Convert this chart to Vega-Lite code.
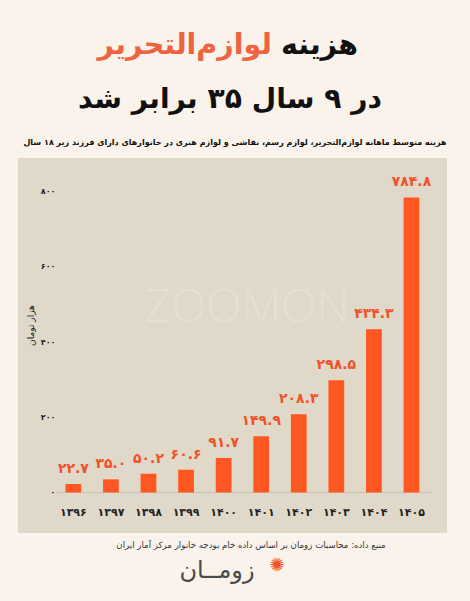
{
  "$schema": "https://vega.github.io/schema/vega-lite/v6.json",
  "width": 429,
  "height": 375,
  "autosize": {"type": "none"},
  "padding": {"left": 18, "top": 158, "right": 23, "bottom": 68},
  "background": "#FAF3EB",
  "config": {
    "view": {"fill": "#E0D8C8", "stroke": null},
    "font": "DejaVu Sans",
    "locale": {
      "number": {
        "decimal": ".",
        "thousands": ",",
        "grouping": [3],
        "currency": ["", ""],
        "numerals": ["۰", "۱", "۲", "۳", "۴", "۵", "۶", "۷", "۸", "۹"]
      }
    }
  },
  "layer": [
    {
      "data": {"values": [{}]},
      "mark": {"type": "text", "text": "ZOOMON", "x": 229, "y": 150, "align": "center", "baseline": "middle", "font": "Open Sans", "fontWeight": 300, "fontSize": 46, "color": "#FFFFFF", "opacity": 0.2},
      "encoding": {}
    },
    {
      "data": {
        "values": [
          {"year": "۱۳۹۶", "value": 22.7},
          {"year": "۱۳۹۷", "value": 35.0},
          {"year": "۱۳۹۸", "value": 50.2},
          {"year": "۱۳۹۹", "value": 60.6},
          {"year": "۱۴۰۰", "value": 91.7},
          {"year": "۱۴۰۱", "value": 149.9},
          {"year": "۱۴۰۲", "value": 208.3},
          {"year": "۱۴۰۳", "value": 298.5},
          {"year": "۱۴۰۴", "value": 434.3},
          {"year": "۱۴۰۵", "value": 784.8}
        ]
      },
      "encoding": {
        "x": {
          "field": "year",
          "type": "ordinal",
          "sort": null,
          "scale": {
            "domain": ["۱۳۹۶", "۱۳۹۷", "۱۳۹۸", "۱۳۹۹", "۱۴۰۰", "۱۴۰۱", "۱۴۰۲", "۱۴۰۳", "۱۴۰۴", "۱۴۰۵"],
            "paddingInner": 0.581, "paddingOuter": 1.282, "align": 0.632
          },
          "axis": {
            "title": null,
            "orient": "bottom",
            "offset": -21,
            "domain": false,
            "ticks": false,
            "tickSize": 0,
            "labelPadding": 0,
            "labelBaseline": "middle",
            "labelAngle": 0,
            "labelFontSize": 11,
            "labelFontWeight": "bold",
            "labelColor": "#222222",
            "grid": false
          }
        },
        "y": {
          "field": "value",
          "type": "quantitative",
          "scale": {"domain": [-107.7, 889.6], "nice": false},
          "axis": {
            "title": "هزار تومان",
            "offset": -37,
            "values": [0, 200, 400, 600, 800],
            "domain": false,
            "ticks": false,
            "tickSize": 0,
            "labelPadding": 0,
            "labelFontSize": 8,
            "labelFontWeight": "bold",
            "labelColor": "#222222",
            "grid": false,
            "titleFontSize": 9,
            "titleFontWeight": "normal",
            "titleColor": "#222222",
            "titleAngle": -90,
            "titleX": -25,
            "titleY": 167,
            "titleAlign": "center",
            "titleBaseline": "middle"
          }
        }
      },
      "layer": [
        {
          "mark": {"type": "rule", "color": "#CBC2B2", "strokeWidth": 1, "xOffset": -9, "x2Offset": 11},
          "encoding": {
            "x": {"datum": "۱۳۹۶", "bandPosition": 0},
            "x2": {"datum": "۱۴۰۵", "bandPosition": 1},
            "y": {"datum": 0}
          }
        },
        {
          "mark": {"type": "bar", "color": "#FF5722"},
          "encoding": {"y2": {"datum": 0}}
        },
        {
          "mark": {"type": "text", "color": "#F0522A", "fontSize": 14, "fontWeight": "bold", "baseline": "alphabetic", "dy": -11},
          "encoding": {"text": {"field": "value", "type": "quantitative", "format": ".1f"}}
        }
      ]
    },
    {
      "data": {"values": [{}]},
      "mark": {"type": "text", "text": "لوازم\u200cالتحریر", "x": 254, "y": -113, "align": "right", "baseline": "middle", "fontSize": 28.5, "fontWeight": "bold", "color": "#EE6440"},
      "encoding": {}
    },
    {
      "data": {"values": [{}]},
      "mark": {"type": "text", "text": "هزینه", "x": 263, "y": -113, "align": "left", "baseline": "middle", "fontSize": 28.5, "fontWeight": "bold", "color": "#111111"},
      "encoding": {}
    },
    {
      "data": {"values": [{}]},
      "mark": {"type": "text", "text": "در ۹ سال ۳۵ برابر شد", "x": 212, "y": -58, "align": "center", "baseline": "middle", "fontSize": 28.2, "fontWeight": "bold", "color": "#111111"},
      "encoding": {}
    },
    {
      "data": {"values": [{}]},
      "mark": {"type": "text", "text": "هزینه متوسط ماهانه لوازم\u200cالتحریر، لوازم رسم، نقاشی و لوازم هنری در خانوارهای دارای فرزند زیر ۱۸ سال", "x": 217, "y": -15, "align": "center", "baseline": "middle", "fontSize": 8, "fontWeight": "bold", "color": "#111111"},
      "encoding": {}
    },
    {
      "data": {"values": [{}]},
      "mark": {"type": "text", "text": "منبع داده: محاسبات زومان بر اساس داده خام بودجه خانوار مرکز آمار ایران", "x": 233, "y": 387, "align": "center", "baseline": "middle", "fontSize": 8.6, "color": "#333333"},
      "encoding": {}
    },
    {
      "data": {"values": [{}]},
      "mark": {"type": "text", "text": "زومــان", "x": 199, "y": 413, "align": "center", "baseline": "middle", "fontSize": 24, "color": "#4A4A4A"},
      "encoding": {}
    },
    {
      "data": {"values": [{}]},
      "mark": {"type": "text", "text": "✺", "x": 259, "y": 408, "align": "center", "baseline": "middle", "fontSize": 18, "color": "#F0522A"},
      "encoding": {}
    }
  ]
}
